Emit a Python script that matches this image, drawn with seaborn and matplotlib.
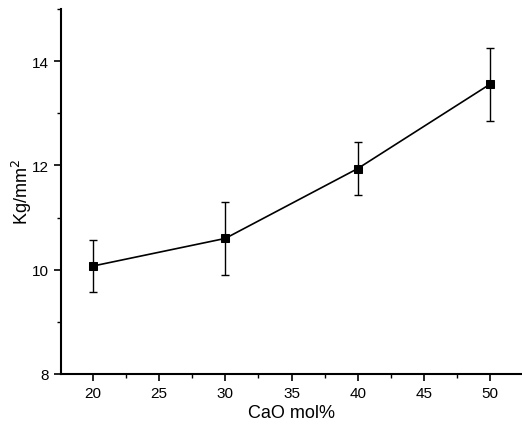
import matplotlib
matplotlib.use("Agg")
import matplotlib.pyplot as plt
import seaborn as sns
import pandas as pd
from matplotlib.ticker import MultipleLocator

sns.set_style("ticks")
plt.rcParams['font.family'] = ['Liberation Sans', 'DejaVu Sans']

cao = [20, 30, 40, 50]
hardness = [10.07, 10.6, 11.94, 13.56]
err = [0.5, 0.7, 0.5, 0.7]

df = pd.DataFrame({"CaO": cao, "H": hardness, "err": err})

fig = plt.figure(figsize=(5.22, 4.35), dpi=100)
ax = fig.add_axes([0.117, 0.138, 0.883, 0.839])

sns.lineplot(data=df, x="CaO", y="H", ax=ax, color="black", linewidth=1.2,
             marker="s", markersize=5.5, markeredgecolor="black")
ax.errorbar(df["CaO"], df["H"], yerr=df["err"], fmt="none", ecolor="black",
            elinewidth=1, capsize=3, capthick=1)

ax.set_xlim(17.6, 52.4)
ax.set_ylim(8, 15)
ax.xaxis.set_major_locator(MultipleLocator(5))
ax.xaxis.set_minor_locator(MultipleLocator(2.5))
ax.yaxis.set_major_locator(MultipleLocator(2))
ax.yaxis.set_minor_locator(MultipleLocator(1))
ax.tick_params(which="major", direction="out", length=5, width=1.2, labelsize=11, colors="black")
ax.tick_params(which="minor", direction="out", length=3, width=1, colors="black")
for s in ["top", "right"]:
    ax.spines[s].set_visible(False)
for s in ["left", "bottom"]:
    ax.spines[s].set_linewidth(1.5)
    ax.spines[s].set_color("black")

ax.set_xlabel("CaO mol%", fontsize=13, labelpad=3, color="black")
ax.set_ylabel("Kg/mm$^2$", fontsize=13, labelpad=-1, color="black")

fig.savefig("out.png", dpi=100)
